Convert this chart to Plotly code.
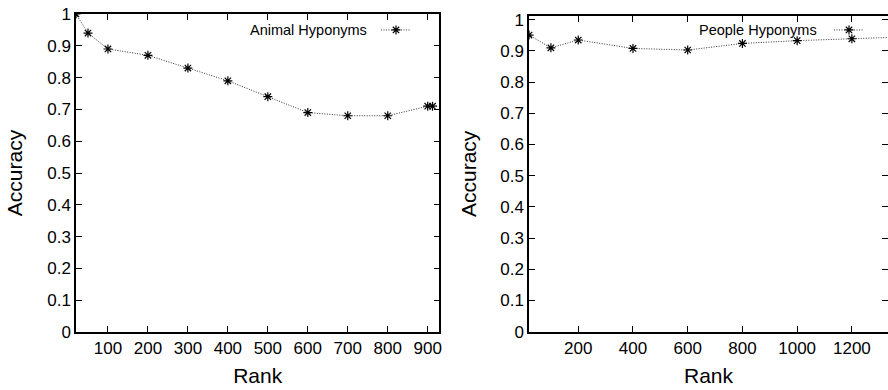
import plotly.graph_objects as go

# ---- data ----
animal_rank = [20, 50, 100, 200, 300, 400, 500, 600, 700, 800, 900, 912]
animal_acc = [1.00, 0.94, 0.89, 0.87, 0.83, 0.79, 0.74, 0.69, 0.68, 0.68, 0.71, 0.71]

people_rank = [20, 100, 200, 400, 600, 800, 1000, 1200, 1360]
people_acc = [0.951, 0.910, 0.935, 0.908, 0.903, 0.924, 0.933, 0.939, 0.944]

left_xticks = [100, 200, 300, 400, 500, 600, 700, 800, 900]
right_xticks = [200, 400, 600, 800, 1000, 1200]
yticks = [0, 0.1, 0.2, 0.3, 0.4, 0.5, 0.6, 0.7, 0.8, 0.9, 1]

series_names = ["Animal Hyponyms", "People Hyponyms"]
x_title = "Rank"
y_title = "Accuracy"

W, H = 888, 390
FONT = "Liberation Sans, Arial, Helvetica, sans-serif"

fig = go.Figure()

line_style = dict(color="#333333", width=1, dash="1px,1.5px")
marker_style = dict(symbol="asterisk-open", size=7.5, color="black",
                    line=dict(color="black", width=1.2))

fig.add_trace(go.Scatter(x=animal_rank, y=animal_acc, mode="lines+markers",
                         name=" ", line=line_style, marker=marker_style,
                         xaxis="x", yaxis="y", legend="legend", showlegend=True))
fig.add_trace(go.Scatter(x=people_rank, y=people_acc, mode="lines+markers",
                         name=" ", line=line_style, marker=marker_style,
                         xaxis="x2", yaxis="y2", legend="legend2", showlegend=True))


def px_x(p):
    return p / W


def px_y(p):
    return 1 - p / H


axis_common = dict(showline=True, linecolor="black", linewidth=1.5, mirror="ticks",
                   ticks="inside", ticklen=6, tickwidth=1.2, tickcolor="black",
                   showgrid=False, zeroline=False, automargin=False,
                   tickfont=dict(family=FONT, size=17, color="black"),
                   title_font=dict(family=FONT, size=21, color="black"))

fig.update_layout(
    template="none",
    width=W, height=H,
    margin=dict(l=0, r=0, t=0, b=0),
    paper_bgcolor="white", plot_bgcolor="white",
    font=dict(family=FONT, color="black"),
    xaxis=dict(domain=[px_x(76), px_x(439.3)], range=[20, 929], anchor="y",
               tickvals=left_xticks, title=dict(text=x_title, standoff=11),
               **axis_common),
    yaxis=dict(domain=[px_y(332), px_y(14)], range=[0, 1], anchor="x",
               tickvals=yticks, title=dict(text=y_title, standoff=19),
               **axis_common),
    xaxis2=dict(domain=[px_x(529), 1.0], range=[20, 1332], anchor="y2",
                tickvals=right_xticks, title=dict(text=x_title, standoff=11),
                **axis_common),
    yaxis2=dict(domain=[px_y(331.7), px_y(16)], range=[0, 1.012], anchor="x2",
                tickvals=yticks, title=dict(text=y_title, standoff=18),
                **axis_common),
    legend=dict(x=px_x(376), y=px_y(30), xanchor="left", yanchor="middle",
                bgcolor="rgba(0,0,0,0)", borderwidth=0,
                font=dict(family=FONT, size=14.5), itemwidth=30),
    legend2=dict(x=px_x(829), y=px_y(30), xanchor="left", yanchor="middle",
                 bgcolor="rgba(0,0,0,0)", borderwidth=0,
                 font=dict(family=FONT, size=14.5), itemwidth=30),
)

# legend labels (placed left of the legend samples, as in the reference)
fig.add_annotation(text=series_names[0], xref="paper", yref="paper",
                   x=px_x(369), y=px_y(30), xanchor="right", yanchor="middle",
                   showarrow=False, font=dict(family=FONT, size=14.5, color="black"))
fig.add_annotation(text=series_names[1], xref="paper", yref="paper",
                   x=px_x(819), y=px_y(30), xanchor="right", yanchor="middle",
                   showarrow=False, font=dict(family=FONT, size=14.5, color="black"))

fig.write_html("out.html")
